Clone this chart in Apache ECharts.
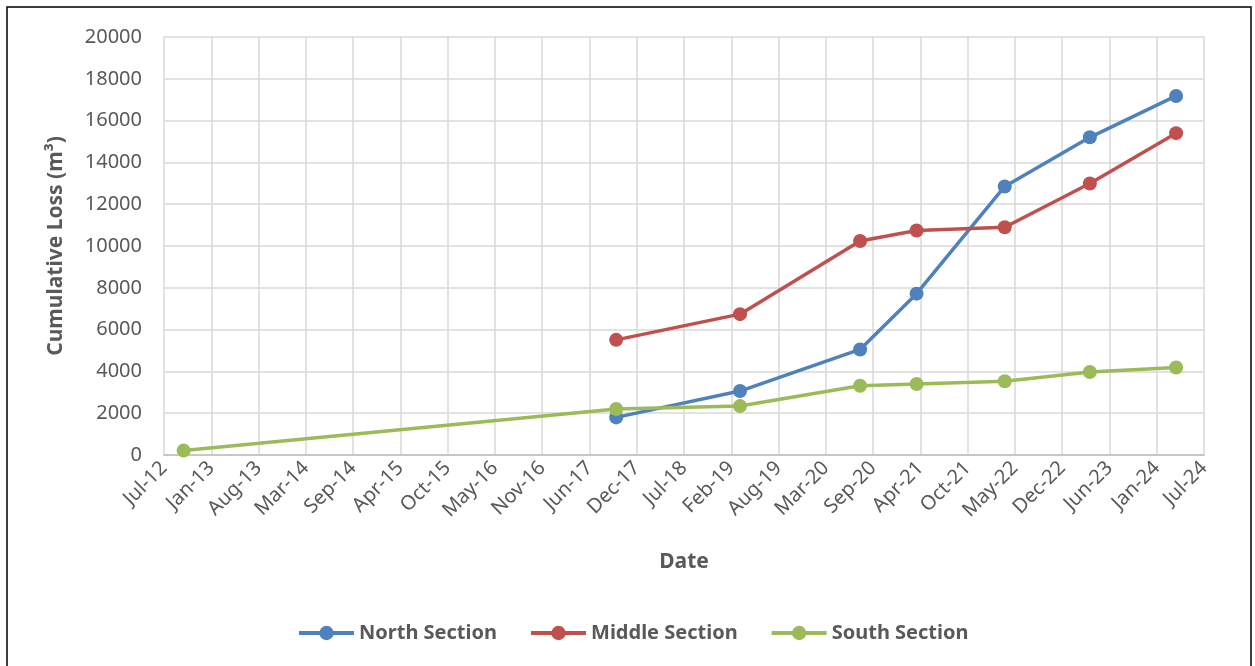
<!DOCTYPE html>
<html>
<head>
<meta charset="utf-8">
<script src="https://cdn.jsdelivr.net/npm/echarts@6/dist/echarts.min.js"></script>
<style>
  html, body { margin: 0; padding: 0; background: #fff; }
  #chart { width: 1255px; height: 666px; }
</style>
</head>
<body>
<div id="chart"></div>
<script>
// survey dates and cumulative loss (m3)
const surveyDates = ['2017-10-05', '2019-03-13', '2020-08-02', '2021-03-29', '2022-04-06', '2023-04-01', '2024-03-31'];
const southDates = ['2012-10-01'].concat(surveyDates);
const northLoss = [1800, 3060, 5050, 7720, 12850, 15200, 17180];
const middleLoss = [5510, 6740, 10240, 10740, 10900, 12990, 15400];
const southLoss = [210, 2200, 2340, 3310, 3400, 3530, 3970, 4190];
const seriesNames = ['North Section', 'Middle Section', 'South Section'];
const seriesColors = ['#4F81BD', '#C0504D', '#9BBB59'];
const months = ['Jan', 'Feb', 'Mar', 'Apr', 'May', 'Jun', 'Jul', 'Aug', 'Sep', 'Oct', 'Nov', 'Dec'];

// x axis runs in days from the axis start, ticks every 200 days (Excel date axis)
const axisStart = Date.UTC(2012, 6, 10);
const DAY = 86400000;
const dayOf = s => Math.round((Date.parse(s + 'T00:00:00Z') - axisStart) / DAY);
const dateLabel = v => {
    const d = new Date(axisStart + v * DAY);
    return months[d.getUTCMonth()] + '-' + String(d.getUTCFullYear()).slice(2);
};
const pairs = (dates, vals) => dates.map((d, i) => [dayOf(d), vals[i]]);

const chart = echarts.init(document.getElementById('chart'));
const textColor = '#595959';
const font = 'Noto Sans';

const makeSeries = (i, data) => ({
    name: seriesNames[i],
    type: 'line',
    data: data,
    symbol: 'circle',
    symbolSize: 14,
    lineStyle: { width: 3.5, color: seriesColors[i] },
    itemStyle: { color: seriesColors[i] },
    z: 3 + i
});

const option = {
    animation: false,
    color: seriesColors,
    textStyle: { fontFamily: font },
    grid: { left: 164, right: 51, top: 37, bottom: 211 },
    graphic: [{
        type: 'rect',
        shape: { x: 7, y: 7, width: 1244, height: 700 },
        style: { fill: 'none', stroke: '#000', lineWidth: 1.5 },
        silent: true
    }],
    legend: {
        data: seriesNames,
        bottom: 18,
        left: 292,
        itemWidth: 55,
        itemHeight: 18,
        itemGap: 32,
        lineStyle: { width: 4 },
        textStyle: { color: textColor, fontSize: 20, fontWeight: 'bold', fontFamily: font }
    },
    xAxis: {
        type: 'value',
        min: 0,
        max: 4400,
        interval: 200,
        name: 'Date',
        nameLocation: 'middle',
        nameGap: 97,
        nameTextStyle: { color: textColor, fontSize: 21, fontWeight: 'bold', fontFamily: font },
        axisLine: { show: true, lineStyle: { color: '#BFBFBF', width: 1.5 } },
        axisTick: { show: false },
        axisLabel: {
            rotate: 45,
            margin: 10,
            color: textColor,
            fontSize: 20,
            fontFamily: font,
            formatter: dateLabel
        },
        splitLine: { show: true, lineStyle: { color: '#D9D9D9', width: 1.5 } }
    },
    yAxis: {
        type: 'value',
        min: 0,
        max: 20000,
        interval: 2000,
        name: 'Cumulative Loss (m³)',
        nameLocation: 'middle',
        nameGap: 97,
        nameTextStyle: { color: textColor, fontSize: 21, fontWeight: 'bold', fontFamily: font },
        axisLine: { show: false },
        axisTick: { show: false },
        axisLabel: { color: textColor, fontSize: 20, fontFamily: font, margin: 22, formatter: v => String(v) },
        splitLine: { show: true, lineStyle: { color: '#D9D9D9', width: 1.5 } }
    },
    series: [
        makeSeries(0, pairs(surveyDates, northLoss)),
        makeSeries(1, pairs(surveyDates, middleLoss)),
        makeSeries(2, pairs(southDates, southLoss))
    ]
};

chart.setOption(option);

window.addEventListener('resize', _ => {
    chart.resize();
});
</script>
</body>
</html>
